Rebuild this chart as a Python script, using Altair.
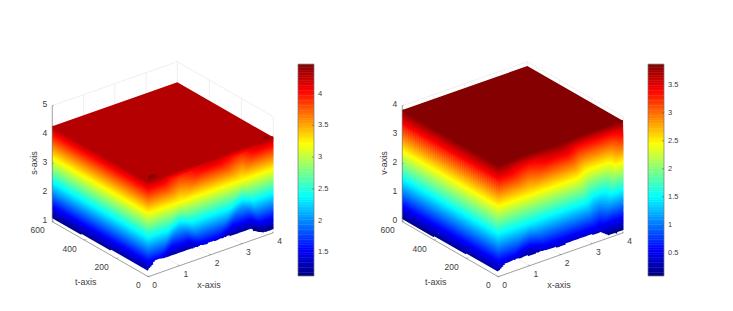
import numpy as np
import pandas as pd
import altair as alt

alt.data_transformers.disable_max_rows()

# values
X_NODES = [0, .25, .5, .75, 1, 1.25, 1.5, 1.75, 2, 2.25, 2.5, 2.75, 3, 3.25, 3.5, 3.75, 4]

S_UPPER = [4.46, 4.44, 4.05, 3.55, 3.2, 3.45, 3.85, 4.12, 4.16, 4.1, 3.85, 3.45, 3.2, 3.8, 4.3, 4.45, 4.3]
S_LOWER = [1.23, 1.4, 1.9, 2.75, 3.2, 2.75, 2.0, 1.55, 1.45, 1.6, 2.1, 2.8, 3.2, 2.7, 1.8, 1.16, 1.16]
S_BOTTOM = [1.23, 1.5, 1.47, 1.46, 1.45, 1.45, 1.45, 1.45, 1.45, 1.45, 1.45, 1.44, 1.44, 1.42, 1.16, 1.14, 1.16]

V_UPPER = [3.85, 3.7, 3.2, 2.8, 2.5, 2.9, 3.4, 3.7, 3.72, 3.4, 2.6, 1.8, .8, .28, 1.0, 2.5, 3.3]
V_LOWER = [.17, .3, .6, 1.2, 1.46, 1.1, .45, .3, .28, .28, .28, .28, .28, .28, .12, .1, .12]
V_BOTTOM = [.17, .4, .4, .39, .38, .37, .37, .36, .28, .35, .35, .34, .33, .31, .11, .09, .1]

PANELS = [
    dict(name="s", ox=148.3, zmin=1.13, zmax=4.46, ztop=4.29, zleft=1.12, zleft2=1.24, base=1, zticks=[1, 2, 3, 4, 5],
         up=S_UPPER, lo=S_LOWER, bt=S_BOTTOM, title="s-axis", barx=298, cticks=[1.5, 2, 2.5, 3, 3.5, 4],
         clabels=["1.5", "2", "2.5", "3", "3.5", "4"], s_up=6.0, s_lo=6.0),
    dict(name="v", ox=498.3, zmin=.08, zmax=3.87, ztop=3.85, zleft=.09, zleft2=.2, base=0, zticks=[0, 1, 2, 3, 4],
         up=V_UPPER, lo=V_LOWER, bt=V_BOTTOM, title="v-axis", barx=648, cticks=[.5, 1, 1.5, 2, 2.5, 3, 3.5],
         clabels=["0.5", "1", "1.5", "2", "2.5", "3", "3.5"], s_up=3.5, s_lo=5.0),
]
X_TICKS = [0, 1, 2, 3, 4]
T_TICKS = [0, 200, 400, 600]
JET_STOPS = [0, .125, .375, .625, .875, 1]
JET_COLORS = ["#000080", "#0000ff", "#00ffff", "#ffff00", "#ff0000", "#800000"]

OY = 276.7
AX, AY = 125 / 4, -44 / 4
BX, BY = -96 / 600, -55 / 600
CZ = 29.0
BAR_TOP, BAR_BOTTOM, BAR_W = 64.3, 276.0, 16
W_UP, W_TOP, W_LO = .8, .45, 1.0
K_UP = 6
FONT = "Liberation Sans"
TXT = "#404040"


def proj(p, x, t, z):
    return p["ox"] + x * AX + t * BX, OY + x * AY + t * BY - (z - p["base"]) * CZ


def level_rows(p):
    rows = []
    gid = 0
    f = lambda v, F: float(np.interp(v, X_NODES, F))
    frac = lambda z: (z - p["zmin"]) / (p["zmax"] - p["zmin"])
    mesh = np.arange(0, 4.0001, 0.05)

    def emit(pts, z):
        nonlocal gid
        gid += 1
        for i, (v, t, dy) in enumerate(pts):
            sx, sy = proj(p, v, t, z)
            rows.append(dict(sx=sx, sy=sy - dy, i=i, gid=f'{p["name"]}{gid}', f=frac(z)))

    zs = list(np.arange(p["zleft"], p["zmax"] + 1e-6, 0.04)) + [p["ztop"]]
    for z in sorted(zs):
        def point(v):
            above, below = z - f(v, p["up"]), f(v, p["lo"]) - z
            dy = 0.0
            t = 0.0
            if above > 0:
                dy = p["s_up"] * min(above / W_UP, max(0.0, p["ztop"] - z) / W_TOP, 1.0)
                t = K_UP * min(above, 1.6)
            elif below > 0:
                dy = p["s_lo"] * min(below / W_LO, 1.0)
            return v, t, dy

        def active(v):
            _, _, dy = point(v)
            return z + dy / CZ >= f(v, p["bt"]) - 1e-9 and (z <= p["ztop"] or z <= f(v, p["up"]))

        runs, cur = [], []
        for v in mesh:
            if active(v):
                cur.append(v)
            else:
                if len(cur) > 1:
                    runs.append(cur)
                cur = []
        if len(cur) > 1:
            runs.append(cur)
        if z < p["zleft2"]:
            # lower rim of the x=0 wall rises towards the front corner
            t_end = 600 - (z - p["zleft"]) / (p["zleft2"] - p["zleft"]) * 550
            emit([(0, 600, 0), (0, t_end, 0)], z)
        elif not (runs and runs[0][0] == 0) and z <= p["ztop"]:
            emit([(0, 600, 0), (0, 0, 0)], z)
        for run in runs:
            pts = []
            if run[0] == 0 and z <= p["ztop"]:
                pts.append((0, 600, 0))
            pts += [point(v) for v in run]
            emit(pts, z)
    return rows


xs_scale = alt.Scale(domain=[8, 725], nice=False, zero=False)
ys_scale = alt.Scale(domain=[298, 8], nice=False, zero=False)
col_scale = alt.Scale(domain=JET_STOPS, range=JET_COLORS, interpolate="rgb")
X = alt.X("sx:Q", scale=xs_scale, axis=None)
Y = alt.Y("sy:Q", scale=ys_scale, axis=None)

grid, axes, texts, titles, plate, bars, barticks, levels, stipple = [], [], [], [], [], [], [], [], []
seg = 0


def add_seg(store, p, a, b):
    global seg
    seg += 1
    for i, q in enumerate((a, b)):
        sx, sy = proj(p, *q)
        store.append(dict(sx=sx, sy=sy, i=i, gid=seg))


for p in PANELS:
    ztop_axis, zb = p["zticks"][-1], p["zticks"][0]
    add_seg(grid, p, (0, 600, ztop_axis), (4, 600, ztop_axis))
    add_seg(grid, p, (4, 600, ztop_axis), (4, 0, ztop_axis))
    add_seg(grid, p, (4, 600, zb), (4, 600, ztop_axis))
    for v in X_TICKS[1:4]:
        add_seg(grid, p, (v, 600, zb), (v, 600, ztop_axis))
        add_seg(grid, p, (v, 0, zb), (v, 600, zb))
    for t in T_TICKS[1:3]:
        add_seg(grid, p, (4, t, zb), (4, t, ztop_axis))
        add_seg(grid, p, (0, t, zb), (4, t, zb))
    add_seg(grid, p, (4, 0, zb), (4, 0, ztop_axis))
    add_seg(axes, p, (0, 600, zb), (0, 600, ztop_axis))
    add_seg(axes, p, (0, 0, zb), (0, 600, zb))
    add_seg(axes, p, (0, 0, zb), (4, 0, zb))
    for z in p["zticks"]:
        add_seg(axes, p, (0, 600, z), (0.04, 600, z))
        sx, sy = proj(p, 0, 600, z)
        texts.append(dict(sx=sx - 5, sy=sy - 1.5, label=str(z), ha="right"))
    for t in T_TICKS:
        add_seg(axes, p, (0, t, zb), (0.04, t, zb))
        sx, sy = proj(p, 0, t, zb)
        texts.append(dict(sx=sx - 7.6, sy=sy + 8.5, label=str(t), ha="right"))
    for v in X_TICKS:
        add_seg(axes, p, (v, 0, zb), (v, 7, zb))
        sx, sy = proj(p, v, 0, zb)
        texts.append(dict(sx=sx + 4, sy=sy + 8, label=str(v), ha="left"))
    ox = p["ox"]
    titles.append(dict(sx=ox - 62.5, sy=282, label="t-axis", angle=0))
    titles.append(dict(sx=ox + 60.7, sy=285, label="x-axis", angle=0))
    titles.append(dict(sx=ox - 114.8, sy=163, label=p["title"], angle=270))
    corners = [proj(p, 0, 600, p["ztop"]), proj(p, 0, 0, p["ztop"]), proj(p, 4, 600, p["ztop"]), proj(p, 4, 0, p["ztop"])]
    cx = [c[0] for c in corners]
    cy = [c[1] for c in corners]
    fr = (p["ztop"] - p["zmin"]) / (p["zmax"] - p["zmin"])
    for c in cx:
        plate.append(dict(sx=c, sy=float(np.interp(c, [cx[0], cx[2], cx[3]], [cy[0], cy[2], cy[3]])),
                          sy2=float(np.interp(c, [cx[0], cx[1], cx[3]], [cy[0], cy[1], cy[3]])), f=fr, gid=p["name"]))
    levels += level_rows(p)
    n = 128
    h = (BAR_BOTTOM - BAR_TOP) / n
    for i in range(n):
        bars.append(dict(sx=p["barx"], sx2=p["barx"] + BAR_W, sy=BAR_BOTTOM - i * h, sy2=BAR_BOTTOM - (i + 1) * h - .4, f=(i + .5) / n))
    for v, lab in zip(p["cticks"], p["clabels"]):
        yy = BAR_BOTTOM - (v - p["zmin"]) / (p["zmax"] - p["zmin"]) * (BAR_BOTTOM - BAR_TOP)
        texts.append(dict(sx=p["barx"] + BAR_W + 4, sy=yy, label=lab, ha="left", small=1))
        barticks.append(dict(sx=p["barx"] + BAR_W - 2, sx2=p["barx"] + BAR_W, sy=yy))

# faint moire of the second surface's x=0 wall
pv = PANELS[1]
for j, z in enumerate(np.arange(1.6, 3.3, 0.07)):
    for i, t in enumerate((600, 0)):
        sx, sy = proj(pv, 0, t, z)
        stipple.append(dict(sx=sx, sy=sy, i=i, gid=j))

grid_l = alt.Chart(pd.DataFrame(grid)).mark_line(color="#e4e4e4", strokeWidth=.6).encode(X, Y, detail="gid:N", order="i:Q")
plate_l = alt.Chart(pd.DataFrame(plate)).mark_area(interpolate="linear").encode(
    X, Y, y2="sy2:Q", detail="gid:N", color=alt.Color("f:Q", scale=col_scale, legend=None))
level_l = alt.Chart(pd.DataFrame(levels)).mark_line(strokeWidth=2.1).encode(
    X, Y, detail="gid:N", order="i:Q", color=alt.Color("f:Q", scale=col_scale, legend=None))
stip_l = alt.Chart(pd.DataFrame(stipple)).mark_line(color="#ffffff", strokeWidth=.8, opacity=.2, strokeDash=[1, 1.6]).encode(
    X, Y, detail="gid:N", order="i:Q")
axes_l = alt.Chart(pd.DataFrame(axes)).mark_line(color="#777777", strokeWidth=.7).encode(X, Y, detail="gid:N", order="i:Q")

tx = pd.DataFrame(texts).fillna({"small": 0})


def text_layer(df, size, ha):
    return alt.Chart(df).mark_text(font=FONT, fontSize=size, color=TXT, align=ha, baseline="middle").encode(X, Y, text="label:N")


tl = [text_layer(tx[(tx["ha"] == a) & (tx["small"] == s)], 7.5 if s else 8.5, a)
      for a in ("left", "right") for s in (0, 1) if len(tx[(tx["ha"] == a) & (tx["small"] == s)])]
tdf = pd.DataFrame(titles)
title_h = text_layer(tdf[tdf["angle"] == 0], 9, "center")
title_v = alt.Chart(tdf[tdf["angle"] != 0]).mark_text(font=FONT, fontSize=9, color=TXT, align="center", baseline="middle", angle=270).encode(X, Y, text="label:N")
bar_l = alt.Chart(pd.DataFrame(bars)).mark_rect().encode(
    x=X, x2="sx2:Q", y=Y, y2="sy2:Q", color=alt.Color("f:Q", scale=col_scale, legend=None))
frames = pd.DataFrame([dict(sx=p["barx"], sx2=p["barx"] + BAR_W, sy=BAR_BOTTOM, sy2=BAR_TOP) for p in PANELS])
frame_l = alt.Chart(frames).mark_rect(fill=None, stroke="#777777", strokeWidth=.7).encode(x=X, x2="sx2:Q", y=Y, y2="sy2:Q")
btick_l = alt.Chart(pd.DataFrame(barticks)).mark_rule(color="#555555", strokeWidth=.5).encode(x=X, x2="sx2:Q", y=Y)

chart = alt.layer(grid_l, plate_l, level_l, stip_l, axes_l, bar_l, frame_l, btick_l, *tl, title_h, title_v).properties(
    width=717, height=290, padding=0, autosize=alt.AutoSizeParams(type="none")
).configure_view(stroke=None)

chart.save("out.html", embed_options={"renderer": "svg", "actions": False})
